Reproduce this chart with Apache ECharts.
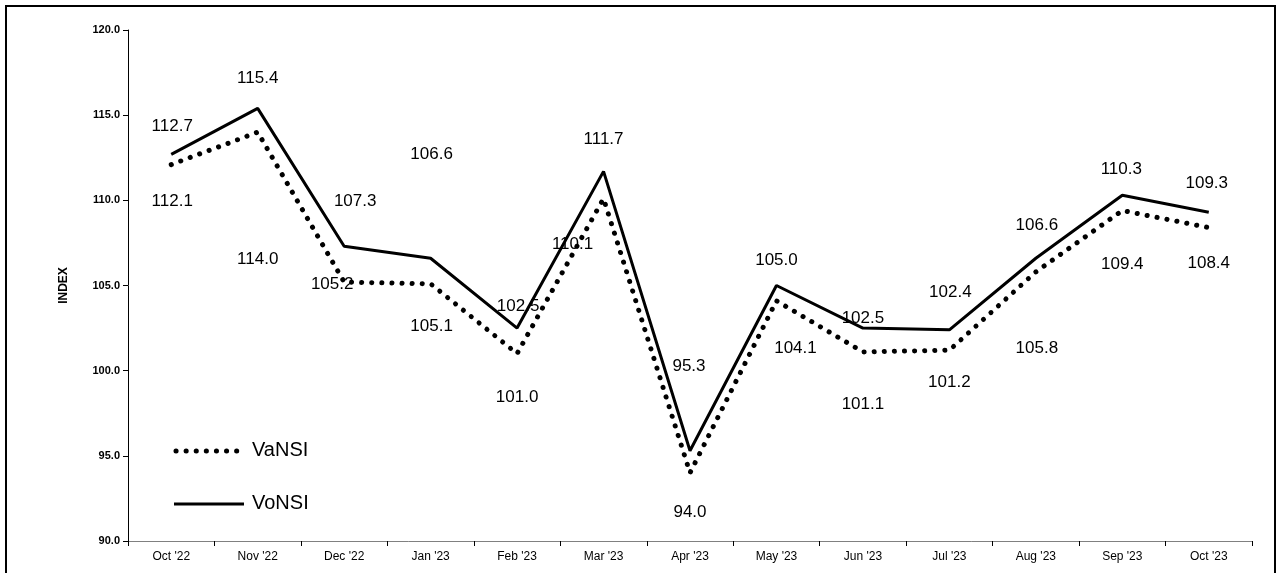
<!DOCTYPE html>
<html><head><meta charset="utf-8">
<script src="https://cdn.jsdelivr.net/npm/echarts@6/dist/echarts.min.js"></script>
<style>html,body{margin:0;padding:0;background:#fff}#c{width:1282px;height:573px}</style>
</head><body><div id="c"></div>
<script>
const categories = ["Oct '22","Nov '22","Dec '22","Jan '23","Feb '23","Mar '23","Apr '23","May '23","Jun '23","Jul '23","Aug '23","Sep '23","Oct '23"];
const vansi = [112.1,114.0,105.2,105.1,101.0,110.1,94.0,104.1,101.1,101.2,105.8,109.4,108.4];
const vonsi = [112.7,115.4,107.3,106.6,102.5,111.7,95.3,105.0,102.5,102.4,106.6,110.3,109.3];
// label nudges (styling only)
const vonsiLabelShift = [[1,-3],[0,-5],[11,-20],[1,-79],[1,3],[0,-7],[-1,-59],[0,0],[0,15],[1,-12],[1,-8],[-1,-1],[-2,-4]];
const vansiLabelShift = [[1,8],[0,98],[-12,-27],[1,14],[0,15],[-31,17],[0,10],[19,18],[0,23],[0,3],[1,47],[0,25],[0,7]];
const chart = echarts.init(document.getElementById('c'));
const lbl = {fontFamily:'Arial, Liberation Sans', fontSize:17, color:'#000', formatter:p=>p.value.toFixed(1)};
const ft = {fontFamily:'Arial, Liberation Sans',fontSize:20,fill:'#000'};
const mk = (vals, sh) => vals.map((v,i)=>({value:v,label:{offset:sh[i]}}));
chart.setOption({
  animation:false,
  graphic:[
    {type:'rect',shape:{x:6,y:6,width:1269,height:600},style:{fill:'none',stroke:'#000',lineWidth:2}},
    {type:'line',shape:{x1:176,y1:451,x2:244,y2:451},style:{stroke:'#000',lineWidth:5,lineDash:[0.1,10],lineCap:'round'}},
    {type:'text',x:252,y:440,style:{text:'VaNSI',...ft}},
    {type:'line',shape:{x1:174,y1:504,x2:244,y2:504},style:{stroke:'#000',lineWidth:3}},
    {type:'text',x:252,y:493,style:{text:'VoNSI',...ft}}
  ],
  grid:{left:128,right:30,top:30,bottom:32},
  xAxis:{type:'category',data:categories,boundaryGap:true,
    axisLine:{lineStyle:{color:'#808080'}},axisTick:{show:true,lineStyle:{color:'#000'}},
    axisLabel:{fontFamily:'Arial, Liberation Sans',fontSize:12,color:'#000',margin:10}},
  yAxis:{type:'value',min:90,max:120,interval:5,name:'INDEX',nameLocation:'middle',nameGap:58,
    nameTextStyle:{fontFamily:'Arial, Liberation Sans',fontSize:12,fontWeight:'bold',color:'#000'},
    splitLine:{show:false},axisLine:{show:true,lineStyle:{color:'#000'}},axisTick:{show:true,length:5},
    axisLabel:{fontFamily:'Arial, Liberation Sans',fontSize:11,fontWeight:'bold',color:'#000',formatter:v=>v.toFixed(1),margin:8}},
  series:[
    {name:'VaNSI',type:'line',data:mk(vansi,vansiLabelShift),symbol:'circle',symbolSize:1,showSymbol:true,
     itemStyle:{color:'rgba(0,0,0,0)'},
     lineStyle:{color:'#000',width:5,type:[0.1,10],cap:'round'},
     label:{show:true,position:'bottom',distance:20,...lbl}},
    {name:'VoNSI',type:'line',data:mk(vonsi,vonsiLabelShift),symbol:'circle',symbolSize:1,showSymbol:true,
     itemStyle:{color:'rgba(0,0,0,0)'},
     lineStyle:{color:'#000',width:3},
     label:{show:true,position:'top',distance:16,...lbl}}
  ]
});
</script></body></html>
